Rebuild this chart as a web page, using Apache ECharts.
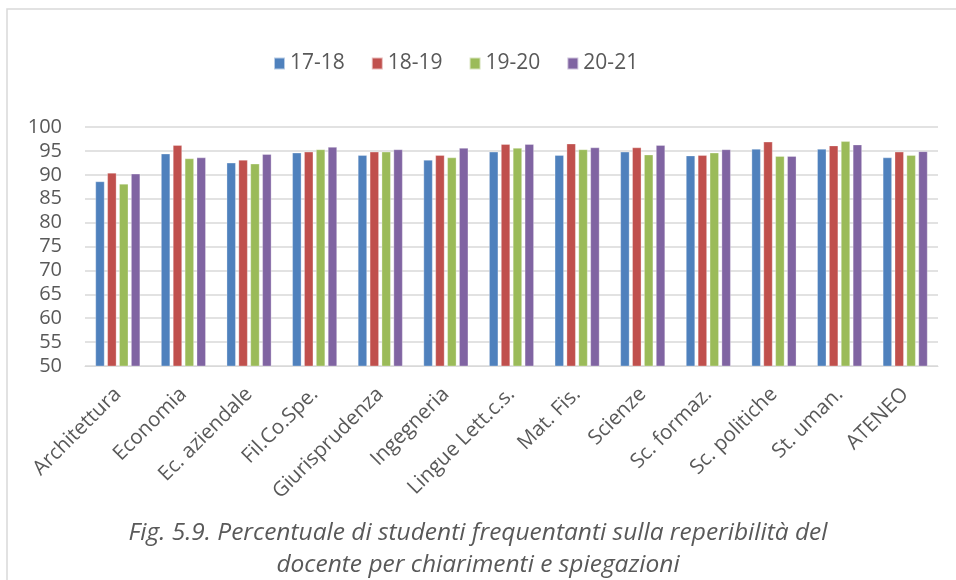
<!DOCTYPE html>
<html>
<head>
<meta charset="utf-8">
<script src="https://cdn.jsdelivr.net/npm/echarts@6/dist/echarts.min.js"></script>
<style>
  html, body { margin: 0; padding: 0; background: #fff; }
  #chart { width: 956px; height: 580px; }
</style>
</head>
<body>
<div id="chart"></div>
<script>
// Facolta' / categorie
var categories = ['Architettura', 'Economia', 'Ec. aziendale', 'Fil.Co.Spe.', 'Giurisprudenza', 'Ingegneria',
    'Lingue Lett.c.s.', 'Mat. Fis.', 'Scienze', 'Sc. formaz.', 'Sc. politiche', 'St. uman.', 'ATENEO'];

var years = ['17-18', '18-19', '19-20', '20-21'];

var val_1718 = [88.6, 94.4, 92.5, 94.6, 94.1, 93.1, 94.8, 94.1, 94.8, 94.0, 95.4, 95.4, 93.6];
var val_1819 = [90.4, 96.2, 93.1, 94.8, 94.8, 94.1, 96.4, 96.5, 95.7, 94.1, 96.9, 96.1, 94.8];
var val_1920 = [88.1, 93.4, 92.3, 95.3, 94.8, 93.6, 95.6, 95.3, 94.2, 94.6, 93.9, 97.0, 94.1];
var val_2021 = [90.2, 93.6, 94.3, 95.8, 95.3, 95.6, 96.4, 95.7, 96.2, 95.3, 93.9, 96.3, 94.9];

var colors = ['#4F81BD', '#C0504D', '#9BBB59', '#8064A2'];
var all_values = [val_1718, val_1819, val_1920, val_2021];

var font = 'Open Sans, Liberation Sans, sans-serif';

var chart = echarts.init(document.getElementById('chart'));

var series = years.map(function (y, i) {
    return {
        name: y,
        type: 'bar',
        data: all_values[i],
        barWidth: 9,
        barGap: '32%',
        itemStyle: { color: colors[i], borderColor: 'rgba(255,255,255,0.6)', borderWidth: 0.5 }
    };
});

var option = {
    animation: false,
    backgroundColor: '#fff',
    textStyle: { fontFamily: font },
    legend: {
        top: 48,
        left: 268,
        itemWidth: 11,
        itemHeight: 12,
        itemGap: 26,
        icon: 'rect',
        textStyle: { fontSize: 21, color: '#595959', fontFamily: font, padding: [0, 0, 0, 0] },
        data: years
    },
    grid: { left: 85, right: 18, top: 127, bottom: 214, containLabel: false },
    xAxis: {
        type: 'category',
        data: categories,
        axisLine: { lineStyle: { color: '#d9d9d9' } },
        axisTick: { show: false },
        axisLabel: { rotate: 45, interval: 0, fontSize: 20.5, color: '#595959', margin: 25, fontFamily: font }
    },
    yAxis: {
        type: 'value',
        min: 50,
        max: 100,
        interval: 5,
        axisLine: { show: false },
        axisTick: { show: false },
        splitLine: { lineStyle: { color: '#d9d9d9', width: 1.5 } },
        axisLabel: { fontSize: 20, color: '#595959', margin: 23, fontFamily: font }
    },
    series: series,
    graphic: [
        {
            type: 'rect',
            shape: { x: 7, y: 9, width: 960, height: 600 },
            style: { fill: 'none', stroke: '#d9d9d9', lineWidth: 1.5 },
            silent: true
        },
        {
            type: 'text',
            left: 'center',
            top: 517,
            style: {
                text: 'Fig. 5.9. Percentuale di studenti frequentanti sulla reperibilità del\ndocente per chiarimenti e spiegazioni',
                textAlign: 'center',
                fontSize: 24.5,
                fontStyle: 'italic',
                lineHeight: 32,
                fill: '#595959',
                fontFamily: font
            }
        }
    ]
};

chart.setOption(option);
</script>
</body>
</html>
